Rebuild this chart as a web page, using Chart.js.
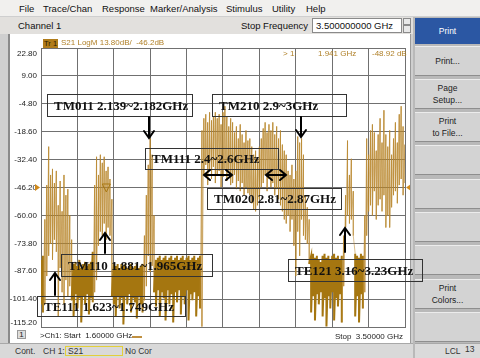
<!DOCTYPE html>
<html><head><meta charset="utf-8">
<script src="https://cdn.jsdelivr.net/npm/chart.js@4/dist/chart.umd.min.js"></script>
<style>
*{box-sizing:border-box}
html,body{margin:0;padding:0;width:480px;height:358px;overflow:hidden;background:#cfcfcf;font-family:"Liberation Sans",Arial,sans-serif;}
.a{position:absolute;white-space:nowrap}
#menu{left:0;top:0;width:480px;height:17px;background:#f1f0ee;border-bottom:1px solid #cfcfcf}
#menu span{position:absolute;top:3px;font-size:9.5px;color:#111;line-height:12px}
#chan{left:0;top:17px;width:413px;height:17px;background:#e2e0dd}
#panel{left:413px;top:17px;width:67px;height:341px;background:#b9b9b9}
.btn{position:absolute;left:2px;width:65px;height:30px;background:#d3d3d3;border-top:1px solid #ececec;border-bottom:1px solid #8e8e8e;font-size:8.5px;color:#222;text-align:center;display:flex;flex-direction:column;justify-content:center;line-height:12px}
#plot{left:8px;top:34px;width:403px;height:309px;background:#fff;border-left:2px solid #8a8a8a;border-right:1px solid #9a9a9a}
#status{left:0;top:343px;width:413px;height:15px;background:#d9d9d9;border-top:1px solid #a8a8a8}
.st{position:absolute;top:2px;font-size:8.5px;color:#333;line-height:11px}
.box{position:absolute;border:1px solid #333;font-family:"Liberation Serif","Times New Roman",serif;font-weight:bold;font-size:13px;color:#111;line-height:18px;padding-left:6px;white-space:nowrap}
.small{font-size:8px;line-height:10px}
</style></head>
<body>
<div id="menu" class="a">
 <span style="left:19px">File</span><span style="left:43px">Trace/Chan</span><span style="left:102px">Response</span><span style="left:150px">Marker/Analysis</span><span style="left:226px">Stimulus</span><span style="left:272px">Utility</span><span style="left:306px">Help</span>
</div>
<div id="chan" class="a">
 <span class="a" style="left:18px;top:3px;font-size:9.5px;color:#111">Channel 1</span>
 <span class="a" style="right:105px;top:3px;font-size:9.5px;color:#111">Stop Frequency</span>
 <div class="a" style="left:312px;top:1px;width:90px;height:15px;background:#fff;border:1px solid #8a8a8a;font-size:9.5px;line-height:13px;padding-left:3px;color:#111">3.500000000 GHz</div>
 <div class="a" style="left:403px;top:1px;width:8px;height:7px;background:#e8e8e8;border:1px solid #8a8a8a"></div>
 <div class="a" style="left:403px;top:8px;width:8px;height:8px;background:#e8e8e8;border:1px solid #8a8a8a"></div>
</div>
<div id="panel" class="a">
 <div class="btn" style="top:1px;height:26px;background:#2b57a3;color:#fff;border:none">Print</div>
 <div class="btn" style="top:29px">Print...</div>
 <div class="btn" style="top:62px">Page<br>Setup...</div>
 <div class="btn" style="top:95px">Print<br>to File...</div>
 <div class="btn" style="top:128px"></div>
 <div class="btn" style="top:162px"></div>
 <div class="btn" style="top:195px"></div>
 <div class="btn" style="top:228px"></div>
 <div class="btn" style="top:262px">Print<br>Colors...</div>
 <div class="btn" style="top:295px"></div>
 <div class="a" style="left:2px;top:326px;width:65px;height:15px;background:#dadada;border-top:1px solid #a8a8a8"></div>
 <span class="a" style="left:32px;top:329px;font-size:8.5px;color:#333">LCL</span>
 <span class="a" style="left:52px;top:327px;font-size:8.5px;color:#333">13</span>
</div>
<div id="plot" class="a"></div>
<canvas id="c" class="a" width="400" height="309" style="left:10px;top:34px"></canvas>
<div id="status" class="a">
 <span class="st" style="left:15px">Cont.</span>
 <span class="st" style="left:43px">CH 1:</span>
 <div class="a" style="left:65px;top:2px;width:58px;height:10px;border:1px solid #e2cf3a"></div>
 <span class="st" style="left:68px">S21</span>
 <span class="st" style="left:125px">No Cor</span>
</div>
<!-- plot texts -->
<div class="a small" style="left:43px;top:39px;width:15px;height:9px;background:#b07c1a;color:#2a1a00;font-size:7.5px;line-height:9px;padding-left:1px">Tr 1</div>
<div class="a small" style="left:61px;top:38px;color:#b08028">S21 LogM 13.80dB/ &nbsp;-46.2dB</div>
<div class="a small" style="left:283px;top:49px;color:#b08028">&gt; 1:</div>
<div class="a small" style="left:318px;top:49px;color:#b08028">1.941 GHz</div>
<div class="a small" style="left:372px;top:49px;color:#b08028">-48.92 dB</div>
<div class="a" style="left:17px;top:330px;width:9px;height:9px;background:#dedede;border:1px solid #999;font-size:8px;line-height:7px;text-align:center;color:#222">1</div>
<div class="a small" style="left:40px;top:331px;color:#222">&gt;Ch1: Start &nbsp;1.60000 GHz</div>
<div class="a" style="left:132px;top:336px;width:10px;height:2px;background:#c09040"></div>
<div class="a small" style="right:77px;top:332px;color:#222">Stop &nbsp;3.50000 GHz</div>
<!-- annotation boxes -->
<div class="box" style="left:47px;top:94px;width:146px;height:23px;line-height:21px">TM011 2.139~2.182GHz</div>
<div class="box" style="left:212px;top:94px;width:135px;height:23px;line-height:21px">TM210 2.9~3GHz</div>
<div class="box" style="left:145px;top:148px;width:134px;height:22px;line-height:20px">TM111 2.4~2.6GHz</div>
<div class="box" style="left:207px;top:188px;width:135px;height:22px;line-height:20px">TM020 2.81~2.87GHz</div>
<div class="box" style="left:61px;top:254px;width:152px;height:23px;line-height:21px">TM110 1.881~1.965GHz</div>
<div class="box" style="left:37px;top:296px;width:149px;height:21px;line-height:19px">TE111 1.623~1.749GHz</div>
<div class="box" style="left:288px;top:259px;width:135px;height:23px;line-height:21px">TE121 3.16~3.23GHz</div>
<svg class="a" style="left:0;top:0" width="480" height="358">
 <g stroke="#000" stroke-width="2" fill="none" stroke-linecap="round" stroke-linejoin="miter">
  <path d="M149 117 L149 137 M144 131 L149 138 L154 131"/>
  <path d="M301 117 L301 136 M296 130 L301 137 L306 130"/>
  <path d="M105 253 L105 234 M100 240 L105 233 L110 240"/>
  <path d="M55 295 L55 274 M50 280 L55 273 L60 280"/>
  <path d="M345 252 L345 229 M340 235 L345 228 L350 235"/>
  <path d="M204 175 L232 175 M210 170 L204 175 L210 180 M226 170 L232 175 L226 180"/>
  <path d="M266 175 L286 175 M272 170 L266 175 L272 180 M280 170 L286 175 L280 180"/>
 </g>
</svg>
<script>
// ---- data ----
const freqGHz = [1.60,1.61,1.62,1.63,1.64,1.65,1.66,1.67,1.68,1.69,1.70,1.71,1.72,1.73,1.74,1.75,1.76,1.77,1.78,1.79,
1.80,1.81,1.82,1.83,1.84,1.85,1.86,1.87,1.88,1.89,1.90,1.91,1.92,1.93,1.94,1.95,1.96,1.97,1.98,1.99,
2.00,2.01,2.02,2.03,2.04,2.05,2.06,2.07,2.08,2.09,2.10,2.11,2.12,2.13,2.14,2.15,2.16,2.17,2.18,2.19,
2.20,2.21,2.22,2.23,2.24,2.25,2.26,2.27,2.28,2.29,2.30,2.31,2.32,2.33,2.34,2.35,2.36,2.37,2.38,2.39,
2.40,2.41,2.42,2.43,2.44,2.45,2.46,2.47,2.48,2.49,2.50,2.51,2.52,2.53,2.54,2.55,2.56,2.57,2.58,2.59,
2.60,2.61,2.62,2.63,2.64,2.65,2.66,2.67,2.68,2.69,2.70,2.71,2.72,2.73,2.74,2.75,2.76,2.77,2.78,2.79,
2.80,2.81,2.82,2.83,2.84,2.85,2.86,2.87,2.88,2.89,2.90,2.91,2.92,2.93,2.94,2.95,2.96,2.97,2.98,2.99,
3.00,3.01,3.02,3.03,3.04,3.05,3.06,3.07,3.08,3.09,3.10,3.11,3.12,3.13,3.14,3.15,3.16,3.17,3.18,3.19,
3.20,3.21,3.22,3.23,3.24,3.25,3.26,3.27,3.28,3.29,3.30,3.31,3.32,3.33,3.34,3.35,3.36,3.37,3.38,3.39,
3.40,3.41,3.42,3.43,3.44,3.45,3.46,3.47,3.48,3.49,3.50];
// upper excursion of the S21 trace in each sweep bin (dB)
const s21HighDb = [-82,-80,-62,-45,-26,-40,-37,-44,-38,-55,
-43,-58,-40,-50,-47,-60,-72,-84,-83,-85,
-82,-86,-84,-83,-85,-84,-83,-78,-45,-31,
-40,-30,-34,-31,-38,-36,-42,-52,-84,-85,
-84,-86,-84,-85,-84,-86,-85,-84,-86,-85,
-84,-86,-85,-84,-70,-50,-35,-22,-30,-60,
-82,-81,-80,-82,-81,-80,-82,-81,-80,-82,
-81,-80,-82,-81,-80,-82,-81,-80,-82,-81,
-80,-82,-81,-80,-18,-12,-10,-14,-9,-13,
-11,-9,-12,-10,-15,-9,-6,-11,-16,-12,
-14,-19,-16,-22,-15,-20,-24,-18,-23,-22,
-26,-30,-28,-32,-26,-22,-17,-14,-19,-15,
-18,-14,-20,-16,-22,-18,-25,-28,-30,-38,
-40,-35,-42,-38,-21,-24,-22,-30,-50,-56,
-62,-80,-79,-81,-80,-82,-83,-80,-79,-81,
-80,-82,-80,-79,-81,-80,-82,-80,-70,-50,
-23,-40,-32,-48,-79,-80,-81,-79,-80,-60,
-22,-30,-18,-15,-19,-28,-20,-12,-24,-8,
-20,-26,-18,-30,-22,-14,-24,-10,-6,-16,
-25];
// lower excursion of the S21 trace in each sweep bin (dB)
const s21LowDb = [-104,-108,-104,-90,-80,-74,-82,-72,-78,-110,
-86,-98,-104,-92,-100,-95,-102,-110,-99,-106,
-101,-113,-100,-104,-99,-109,-101,-103,-98,-92,
-75,-68,-70,-64,-72,-66,-70,-100,-104,-110,
-100,-106,-101,-114,-100,-104,-99,-108,-101,-103,
-111,-100,-104,-108,-102,-95,-80,-88,-85,-98,
-105,-97,-110,-98,-101,-112,-97,-104,-99,-113,
-98,-103,-97,-109,-100,-104,-97,-112,-99,-102,
-98,-110,-100,-106,-115,-40,-35,-45,-38,-42,
-36,-44,-40,-38,-46,-41,-37,-43,-39,-45,
-44,-40,-47,-43,-48,-44,-50,-46,-49,-50,
-54,-57,-58,-55,-52,-46,-44,-40,-48,-42,
-46,-44,-50,-47,-52,-55,-58,-62,-64,-60,
-68,-62,-75,-90,-68,-80,-62,-70,-72,-74,
-84,-108,-100,-112,-99,-104,-98,-110,-101,-115,
-100,-106,-98,-112,-101,-105,-99,-113,-95,-66,
-60,-64,-62,-70,-110,-100,-113,-99,-106,-98,
-70,-58,-55,-60,-48,-62,-55,-52,-58,-50,
-66,-60,-66,-56,-50,-48,-54,-45,-42,-50,
-44];
const yTickLabels = ["-115.20","-101.40","-87.60","-73.80","-60.00","-46.20","-32.40","-18.60","-4.80","9.00","22.80"];
const xGridGHz = [1.60,1.79,1.98,2.17,2.36,2.55,2.74,2.93,3.12,3.31,3.50];
const refLevelDb = -46.2;
const markerGHz = 1.941;
const markerDb = -48.92;

// ---- build ----
const tracePts = [];
freqGHz.forEach((f,i)=>{ tracePts.push({x:f,y:s21HighDb[i]}); tracePts.push({x:f,y:s21LowDb[i]}); });
const DARK='#a57610', LIGHT='rgba(184,134,44,0.52)';
const isFloor = c => c.p0.parsed.y<=-76 && c.p1.parsed.y<=-76;
const extras = {
  id:'extras',
  afterDraw(chart){
    const {ctx, chartArea:a, scales:{x,y}} = chart;
    ctx.save();
    // y tick labels (VNA style: end labels pulled inside the grid)
    ctx.font='8px "Liberation Sans", Arial, sans-serif';
    ctx.fillStyle='#222'; ctx.textAlign='right'; ctx.textBaseline='middle';
    y.ticks.forEach(t=>{
      const lbl = yTickLabels.find(l=>Math.abs(parseFloat(l)-t.value)<1e-6);
      let py = y.getPixelForValue(t.value);
      py = Math.min(Math.max(py, a.top+6), a.bottom-4);
      ctx.fillText(lbl, a.left-4, py);
    });
    const ry = y.getPixelForValue(refLevelDb);
    ctx.fillStyle='#d08a1c';
    ctx.beginPath(); ctx.moveTo(a.left-6,ry-3.5); ctx.lineTo(a.left-1,ry); ctx.lineTo(a.left-6,ry+3.5); ctx.closePath(); ctx.fill();
    ctx.beginPath(); ctx.moveTo(a.right+6,ry-3.5); ctx.lineTo(a.right+1,ry); ctx.lineTo(a.right+6,ry+3.5); ctx.closePath(); ctx.fill();
    const mx = x.getPixelForValue(markerGHz), my = y.getPixelForValue(markerDb);
    ctx.strokeStyle='#a87812'; ctx.lineWidth=1;
    ctx.beginPath(); ctx.moveTo(mx,my-1); ctx.lineTo(mx-4,my-9); ctx.lineTo(mx+4,my-9); ctx.closePath(); ctx.stroke();
    ctx.restore();
  }
};
new Chart(document.getElementById('c'),{
  type:'line',
  data:{datasets:[{
    data:tracePts, borderWidth:1, pointRadius:0, tension:0, fill:false,
    borderColor:LIGHT,
    segment:{borderColor:c=>isFloor(c)?DARK:LIGHT, borderWidth:c=>isFloor(c)?2:1}
  }]},
  options:{
    responsive:false, animation:false, devicePixelRatio:1,
    layout:{padding:{top:14,right:5,bottom:0,left:0}},
    plugins:{legend:{display:false},tooltip:{enabled:false}},
    scales:{
      x:{type:'linear',min:1.6,max:3.5,
         afterBuildTicks:s=>{s.ticks=xGridGHz.map(v=>({value:v}));},
         ticks:{display:false},
         grid:{color:'#707070',drawTicks:false,lineWidth:1},
         border:{color:'#707070'},
         afterFit:s=>{s.height=16;}},
      y:{type:'linear',min:-115.2,max:22.8,
         afterBuildTicks:s=>{s.ticks=yTickLabels.map(t=>({value:parseFloat(t)}));},
         ticks:{display:false},
         grid:{color:'#707070',drawTicks:false,lineWidth:1},
         border:{color:'#707070'},
         afterFit:s=>{s.width=31;}}
    }
  },
  plugins:[extras]
});
</script>
</body></html>
